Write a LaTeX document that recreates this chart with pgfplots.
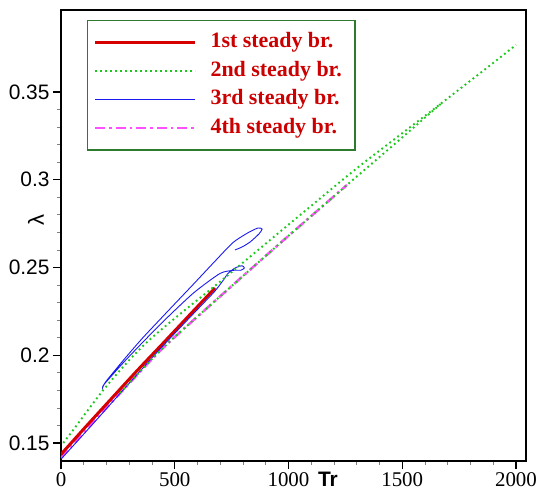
\documentclass[border=0pt]{standalone}
\usepackage{fontspec}
\setmainfont{Liberation Serif}
\newfontfamily\arialfont{Liberation Sans}
\usepackage{pgfplots}
\pgfplotsset{compat=1.18}

\definecolor{brred}{HTML}{D60000}
\definecolor{brgreen}{HTML}{1CC81C}
\definecolor{brblue}{HTML}{1A1AF0}
\definecolor{brmag}{HTML}{FF50FF}
\definecolor{legtext}{HTML}{CC0000}
\definecolor{legframe}{HTML}{2E7A2E}

\begin{document}
\begin{tikzpicture}
\begin{axis}[
  name=ax,
  scale only axis, width=465bp, height=451bp,
  xmin=0, xmax=2044, ymin=0.13974, ymax=0.39672,
  xtick={0,500,1000,1500,2000},
  xticklabels={0,500,1000,1500,2000},
  ytick={0.15,0.2,0.25,0.3,0.35},
  yticklabels={0.15,0.2,0.25,0.3,0.35},
  minor x tick num=4, minor y tick num=4,
  xtick pos=bottom, ytick pos=left,
  tick align=outside,
  major tick length=8bp, minor tick length=4bp,
  major tick style={black, line width=1.1bp},
  minor tick style={gray, line width=0.7bp},
  axis line style={line width=1.8bp},
  /pgf/number format/assume math mode=true,
  xticklabel style={font=\fontsize{21}{21}\selectfont},
  yticklabel style={font=\arialfont\fontsize{21}{21}\selectfont},
  xlabel={Tr},
  xlabel style={at={(axis description cs:0.574,-0.041)}, anchor=center,
    font=\arialfont\bfseries\fontsize{21}{21}\selectfont},
  ylabel={λ},
  ylabel style={at={(axis description cs:-0.054,0.534)}, anchor=center,
    font=\arialfont\fontsize{22}{22}\selectfont},
  legend style={at={(axis description cs:0.0559,0.978)}, anchor=north west,
    draw=legframe, line width=1.2bp, fill=white,
    inner xsep=6bp, inner ysep=12bp, row sep=8.5bp, column sep=7bp,
    font=\bfseries\fontsize{22}{22}\selectfont, text=legtext,
    nodes={inner xsep=7bp, inner ysep=0bp, text height=15bp, text depth=5bp}},
  legend cell align=left,
  legend image code/.code={\draw[#1] (0bp,0bp) -- (100bp,0bp);},
]
\addlegendimage{brred, line width=3bp}
\addlegendentry{1st steady br.}
\addlegendimage{brgreen, line width=1.9bp, dash pattern=on 1.8bp off 3.2bp}
\addlegendentry{2nd steady br.}
\addlegendimage{brblue, line width=0.9bp}
\addlegendentry{3rd steady br.}
\addlegendimage{brmag, line width=2.5bp, dash pattern=on 10bp off 4bp on 2.5bp off 4bp}
\addlegendentry{4th steady br.}

% 4th steady branch
\addplot[forget plot, brmag, line width=2.5bp, dash pattern=on 10bp off 4bp on 2.5bp off 4bp, smooth]
coordinates {(0,0.1415) (150,0.1630) (300,0.1840) (448,0.2041) (700,0.2336) (954,0.2628) (1257,0.2970)};

% 1st steady branch
\addplot[forget plot, brred, line width=3bp, smooth]
coordinates {(0,0.1435) (100,0.1580) (200,0.1722) (338,0.1917) (450,0.2070) (560,0.2222) (677,0.2383)};

% 3rd steady branch (folded loop)
\addplot[forget plot, brblue, line width=0.9bp, smooth, tension=0.4]
coordinates {
 (0,0.1408) (80,0.1522) (170,0.1652) (260,0.1783) (350,0.1913) (440,0.2042)
 (530,0.2166) (611,0.2276) (673,0.2360) (708,0.2418) (734,0.2466)
 (765,0.2497) (796,0.2510) (806,0.2497) (790,0.2484) (760,0.2484)
 (699,0.2466) (580,0.2352) (435,0.2174) (290,0.1980) (202,0.1853) (185,0.1826)
 (183,0.1815) (190,0.1836)
 (207,0.1866) (281,0.1982) (360,0.2100) (479,0.2264) (580,0.2402) (677,0.2536)
 (756,0.2642) (822,0.2698) (866,0.2725) (884,0.2719) (870,0.2691) (831,0.2645)
 (796,0.2617) (765,0.2600)};

% 2nd steady branch, lower part
\addplot[forget plot, brgreen, line width=1.9bp, dash pattern=on 1.8bp off 3.2bp, smooth]
coordinates {(260,0.1785) (448,0.2041) (700,0.2336) (954,0.2628) (1257,0.2970) (1450,0.3185) (1679,0.3443)};

% 2nd steady branch, upper part
\addplot[forget plot, brgreen, line width=1.9bp, dash pattern=on 1.8bp off 3.2bp, smooth]
coordinates {(10,0.1500) (60,0.1585) (120,0.1690) (185,0.1800) (250,0.1900) (320,0.2000)
 (391,0.2090) (500,0.2210) (700,0.2420) (900,0.2636) (1094,0.2845) (1300,0.3065)
 (1500,0.3265) (1679,0.3443) (1850,0.3615) (2000,0.3768)};
\end{axis}
\pgfresetboundingbox
\path ([xshift=-61bp,yshift=-30bp]ax.south west) rectangle ([xshift=11bp,yshift=10bp]ax.north east);
\end{tikzpicture}
\end{document}
